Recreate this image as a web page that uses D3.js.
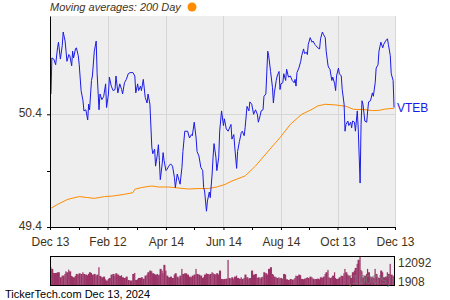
<!DOCTYPE html>
<html>
<head>
<meta charset="utf-8">
<script src="https://cdn.jsdelivr.net/npm/d3@7/dist/d3.min.js"></script>
<style>
  body { margin: 0; background: #fff; }
  svg { display: block; font-family: "Liberation Sans", Arial, sans-serif; }
</style>
</head>
<body>
<div id="chart"></div>
<script>
// daily closes
var priceDates = [
  "2023-12-14","2023-12-15","2023-12-17","2023-12-19","2023-12-21","2023-12-22","2023-12-24","2023-12-26","2023-12-27","2023-12-29",
  "2023-12-30","2023-12-31","2024-01-02","2024-01-03","2024-01-05","2024-01-06","2024-01-07","2024-01-09","2024-01-10","2024-01-12",
  "2024-01-13","2024-01-15","2024-01-17","2024-01-18","2024-01-20","2024-01-22","2024-01-23","2024-01-24","2024-01-26","2024-01-27",
  "2024-01-29","2024-01-31","2024-02-01","2024-02-03","2024-02-04","2024-02-06","2024-02-08","2024-02-10","2024-02-11","2024-02-13",
  "2024-02-14","2024-02-16","2024-02-18","2024-02-20","2024-02-21","2024-02-23","2024-02-25","2024-02-27","2024-02-28","2024-03-01",
  "2024-03-03","2024-03-05","2024-03-07","2024-03-10","2024-03-12","2024-03-13","2024-03-15","2024-03-16","2024-03-18","2024-03-19",
  "2024-03-21","2024-03-23","2024-03-25","2024-03-26","2024-03-28","2024-03-30","2024-03-31","2024-04-02","2024-04-03","2024-04-05",
  "2024-04-06","2024-04-07","2024-04-08","2024-04-10","2024-04-11","2024-04-12","2024-04-14","2024-04-15","2024-04-17","2024-04-19",
  "2024-04-21","2024-04-23","2024-04-24","2024-04-26","2024-04-28","2024-04-29","2024-05-01","2024-05-02","2024-05-04","2024-05-07",
  "2024-05-09","2024-05-11","2024-05-12","2024-05-14","2024-05-16","2024-05-17","2024-05-19","2024-05-21","2024-05-23","2024-05-24",
  "2024-05-25","2024-05-27","2024-05-28","2024-05-30","2024-05-31","2024-06-02","2024-06-03","2024-06-04","2024-06-06","2024-06-07",
  "2024-06-09","2024-06-10","2024-06-12","2024-06-14","2024-06-15","2024-06-17","2024-06-19","2024-06-20","2024-06-22","2024-06-23",
  "2024-06-25","2024-06-26","2024-06-28","2024-06-29","2024-07-01","2024-07-03","2024-07-04","2024-07-06","2024-07-07","2024-07-09",
  "2024-07-11","2024-07-12","2024-07-14","2024-07-16","2024-07-18","2024-07-20","2024-07-21","2024-07-23","2024-07-24","2024-07-26",
  "2024-07-27","2024-07-29","2024-07-31","2024-08-01","2024-08-03","2024-08-05","2024-08-06","2024-08-07","2024-08-09","2024-08-10",
  "2024-08-12","2024-08-13","2024-08-14","2024-08-16","2024-08-17","2024-08-19","2024-08-20","2024-08-22","2024-08-24","2024-08-26",
  "2024-08-28","2024-08-29","2024-08-30","2024-08-31","2024-09-02","2024-09-04","2024-09-05","2024-09-07","2024-09-08","2024-09-10",
  "2024-09-11","2024-09-12","2024-09-14","2024-09-16","2024-09-17","2024-09-19","2024-09-20","2024-09-22","2024-09-24","2024-09-25",
  "2024-09-27","2024-09-28","2024-09-30","2024-10-01","2024-10-03","2024-10-04","2024-10-05","2024-10-07","2024-10-08","2024-10-10",
  "2024-10-11","2024-10-12","2024-10-14","2024-10-15","2024-10-17","2024-10-18","2024-10-20","2024-10-21","2024-10-22","2024-10-24",
  "2024-10-25","2024-10-27","2024-10-28","2024-10-29","2024-10-31","2024-11-01","2024-11-03","2024-11-04","2024-11-06","2024-11-07",
  "2024-11-08","2024-11-09","2024-11-11","2024-11-13","2024-11-14","2024-11-15","2024-11-17","2024-11-19","2024-11-20","2024-11-22",
  "2024-11-23","2024-11-25","2024-11-26","2024-11-28","2024-11-30","2024-12-01","2024-12-03","2024-12-05","2024-12-06","2024-12-08",
  "2024-12-09","2024-12-11","2024-12-12"
];
var priceValues = [
  50.58,50.90,50.89,50.84,50.99,51.04,50.89,51.01,51.13,51.05,
  50.96,50.87,50.93,50.92,50.83,50.96,50.90,50.98,50.99,50.92,
  50.84,50.61,50.52,50.43,50.44,50.35,50.49,50.44,50.70,50.74,
  50.96,51.05,50.76,50.44,50.58,50.53,50.56,50.67,50.46,50.58,
  50.73,50.65,50.61,50.62,50.74,50.59,50.67,50.62,50.58,50.68,
  50.71,50.76,50.77,50.77,50.74,50.59,50.67,50.61,50.65,50.61,
  50.71,50.55,50.50,50.58,50.49,50.11,50.05,50.09,49.94,50.05,
  50.13,49.99,49.82,49.96,50.06,49.99,49.90,49.91,49.94,49.96,
  49.94,49.84,49.75,49.87,49.81,49.78,49.93,50.07,50.25,50.25,
  50.19,50.22,50.21,50.33,50.19,50.07,50.03,49.93,49.90,49.75,
  49.72,49.54,49.63,49.71,49.66,49.87,50.02,50.14,50.02,49.90,
  50.02,50.25,50.43,50.30,50.36,50.27,50.25,50.27,50.31,50.18,
  50.22,50.11,49.92,50.07,50.16,50.24,50.25,50.21,50.28,50.47,
  50.43,50.51,50.49,50.40,50.44,50.40,50.33,50.39,50.43,50.44,
  50.56,50.58,50.96,50.92,50.78,50.64,50.50,50.59,50.70,50.74,
  50.78,50.62,50.67,50.68,50.76,50.70,50.80,50.73,50.74,50.70,
  50.68,50.71,50.65,50.77,50.81,50.87,50.92,50.98,50.94,50.95,
  50.93,51.02,51.08,51.04,51.05,51.02,51.01,50.99,50.98,51.07,
  51.13,51.11,51.08,50.96,50.83,50.81,50.80,50.70,50.73,50.67,
  50.61,50.74,50.81,50.76,50.74,50.62,50.49,50.25,50.31,50.34,
  50.30,50.33,50.28,50.34,50.33,50.25,50.43,50.27,49.79,50.31,
  50.52,50.49,50.34,50.33,50.43,50.51,50.52,50.59,50.56,50.68,
  50.81,50.84,50.96,51.04,50.99,51.02,51.05,51.07,51.02,50.92,
  50.76,50.70,50.46
];
// daily volume in 1000's, same dates as the closes
var volumeValues = [
  7540,6828,5100,5100,5406,5406,3272,3983,3983,4694,
  5800,5406,6540,5800,3840,3556,3272,3840,4694,4410,
  4979,4694,5406,4694,4410,4125,4694,5406,5120,4410,
  4694,3983,4410,7540,3840,3272,3556,2418,1908,2561,
  2987,4410,4694,3983,4979,4410,3840,4125,3272,2987,
  3556,2134,1908,4694,5120,2134,2418,2987,2987,3272,
  2703,3983,4410,5406,6117,5830,4979,4694,4410,4694,
  4125,4410,6828,6117,4979,8536,6117,3983,3272,3556,
  2987,4410,4979,3556,2987,3983,6828,4694,4979,4410,
  3556,3272,3983,4410,6828,4694,4410,3983,2987,3272,
  4410,4979,4694,4410,4694,5406,5120,4694,4410,4979,
  4410,6117,2561,2418,2561,2703,10670,2987,2703,3272,
  2703,3556,3983,2987,2703,3272,2561,2987,4410,3272,
  2703,2987,6117,4410,4694,2987,3272,2703,3272,3556,
  5406,4979,4410,6828,7540,4694,4410,3556,3272,2987,
  3272,2703,2987,2561,4694,4410,2418,2134,2561,2276,
  2418,2987,3983,3840,4410,4125,2561,2418,2703,2987,
  3272,2987,3556,3272,2703,2418,2561,2703,2418,3272,
  2987,3556,4694,5406,6402,3272,2987,3272,3983,5406,
  2987,2561,2703,3272,3983,3840,4979,6828,5406,4410,
  3983,3272,2987,5406,6117,7255,8962,10670,12092,6402,
  5830,3272,3983,4694,6828,5406,3272,3556,2987,6828,
  4694,3272,2987,6117,5406,3272,3556,5406,4694,8962,
  4410,3983,3556
];
// 200 day moving average
var maDates = [
  "2023-12-14","2023-12-21","2024-01-01","2024-01-13","2024-01-22","2024-01-29","2024-02-09","2024-02-18","2024-03-01","2024-03-10",
  "2024-03-12","2024-03-19","2024-03-30","2024-04-06","2024-04-17","2024-04-27","2024-05-08","2024-05-18","2024-05-29","2024-06-07",
  "2024-06-16","2024-06-23","2024-07-07","2024-07-18","2024-07-28","2024-08-13","2024-08-24","2024-09-05","2024-09-16","2024-09-22",
  "2024-09-30","2024-10-11","2024-10-22","2024-10-30","2024-11-10","2024-11-19","2024-11-26","2024-12-03","2024-12-12"
];
var maValues = [
  49.566,49.601,49.646,49.670,49.661,49.654,49.670,49.675,49.690,49.705,
  49.735,49.750,49.764,49.755,49.755,49.746,49.737,49.741,49.741,49.755,
  49.779,49.808,49.853,49.941,50.039,50.193,50.311,50.400,50.444,50.474,
  50.489,50.483,50.471,50.444,50.442,50.433,50.435,50.447,50.453
];
var xTickDates = ["2023-12-13","2024-02-12","2024-04-14","2024-06-14","2024-08-14","2024-10-13","2024-12-13"];
var xTickLabels = ["Dec 13","Feb 12","Apr 14","Jun 14","Aug 14","Oct 13","Dec 13"];
var xMinorDates = ["2024-01-13","2024-03-14","2024-05-14","2024-07-14","2024-09-13","2024-11-13"];
var yLabels = [49.4, 50.4];
var yMinor = [49.9];
var volumeLabels = [12092, 1908];

var width = 450, height = 300;
var plotLeft = 50, plotRight = 395, plotTop = 16, plotBottom = 227;
var volTop = 256, volBottom = 285;
var textColor = "#3f3317";

var parse = d3.timeParse("%Y-%m-%d");
var prices = priceDates.map(function (d, i) {
  return { date: parse(d), value: priceValues[i], volume: volumeValues[i] };
});
var ma = maDates.map(function (d, i) {
  return { date: parse(d), value: maValues[i] };
});

var svg = d3.select("#chart").append("svg")
  .attr("width", width)
  .attr("height", height);

var x = d3.scaleTime()
  .domain([parse("2023-12-13"), parse("2024-12-13")])
  .range([plotLeft, plotRight]);
var y = d3.scaleLinear()
  .domain([49.4, 49.4 + (plotBottom - plotTop) / 112.7])
  .range([plotBottom, plotTop]);
var yVol = d3.scaleLinear()
  .domain([0, 12092])
  .range([volBottom, volTop + 0.5]);

// plot background
svg.append("rect")
  .attr("x", plotLeft).attr("y", plotTop)
  .attr("width", plotRight - plotLeft).attr("height", plotBottom - plotTop)
  .attr("fill", "#eeeeee");

// gridlines
svg.append("g")
  .selectAll("line")
  .data(xTickDates.slice(1))
  .enter().append("line")
  .attr("x1", function (d) { return Math.round(x(parse(d))) + 0.5; })
  .attr("x2", function (d) { return Math.round(x(parse(d))) + 0.5; })
  .attr("y1", plotTop).attr("y2", plotBottom)
  .attr("stroke", "#d6d6d6");
svg.append("line")
  .attr("x1", plotLeft).attr("x2", plotRight)
  .attr("y1", Math.round(y(50.4)) + 0.5).attr("y2", Math.round(y(50.4)) + 0.5)
  .attr("stroke", "#d6d6d6");

// moving average
svg.append("path")
  .datum(ma)
  .attr("fill", "none")
  .attr("stroke", "#ff8c00")
  .attr("stroke-width", 1)
  .attr("d", d3.line()
    .x(function (d) { return x(d.date); })
    .y(function (d) { return y(d.value); }));

// price line
svg.append("path")
  .datum(prices)
  .attr("fill", "none")
  .attr("stroke", "#1a1ae6")
  .attr("stroke-width", 1)
  .attr("stroke-linejoin", "round")
  .attr("d", d3.line()
    .x(function (d) { return x(d.date); })
    .y(function (d) { return y(d.value); }));

// axes
var xAxis = d3.axisBottom(x)
  .tickValues(xTickDates.map(parse))
  .tickFormat(function (d, i) { return xTickLabels[i]; })
  .tickSize(3)
  .tickSizeOuter(0);
var gx = svg.append("g")
  .attr("transform", "translate(0," + plotBottom + ")")
  .call(xAxis);
gx.selectAll("text")
  .attr("font-size", 12)
  .attr("dy", "1.05em")
  .attr("fill", textColor)
  .attr("font-family", "Liberation Sans, Arial, sans-serif");
gx.selectAll("line,path").attr("stroke", "#000");

svg.append("g")
  .selectAll("line")
  .data(xMinorDates)
  .enter().append("line")
  .attr("x1", function (d) { return Math.round(x(parse(d))) + 0.5; })
  .attr("x2", function (d) { return Math.round(x(parse(d))) + 0.5; })
  .attr("y1", plotBottom).attr("y2", plotBottom + 3)
  .attr("stroke", "#000");

var yAxis = d3.axisLeft(y)
  .tickValues(yLabels)
  .tickFormat(d3.format(".1f"))
  .tickSize(3)
  .tickSizeOuter(0);
var gy = svg.append("g")
  .attr("transform", "translate(" + plotLeft + ",0)")
  .call(yAxis);
gy.selectAll("text")
  .attr("font-size", 12)
  .attr("x", -8)
  .attr("dy", "0.22em")
  .attr("fill", textColor)
  .attr("font-family", "Liberation Sans, Arial, sans-serif");
gy.selectAll("line,path").attr("stroke", "#000");

svg.append("g")
  .selectAll("line")
  .data(yMinor)
  .enter().append("line")
  .attr("x1", plotLeft - 3).attr("x2", plotLeft)
  .attr("y1", function (d) { return Math.round(y(d)) + 0.5; })
  .attr("y2", function (d) { return Math.round(y(d)) + 0.5; })
  .attr("stroke", "#000");

// series label
svg.append("text")
  .attr("x", plotRight + 2)
  .attr("y", y(priceValues[priceValues.length - 1]) + 4)
  .attr("font-size", 12)
  .attr("fill", "#1a1ae6")
  .text("VTEB");

// title
svg.append("text")
  .attr("x", plotLeft)
  .attr("y", 11)
  .attr("font-size", 11)
  .attr("font-style", "italic")
  .attr("fill", textColor)
  .text("Moving averages: 200 Day");
svg.append("circle")
  .attr("cx", 192).attr("cy", 7).attr("r", 4.5)
  .attr("fill", "#ff8c00");

// volume panel
svg.append("rect")
  .attr("x", plotLeft).attr("y", volTop)
  .attr("width", plotRight - plotLeft).attr("height", volBottom - volTop)
  .attr("fill", "#eeeeee");

svg.append("g")
  .selectAll("rect")
  .data(prices)
  .enter().append("rect")
  .attr("x", function (d) { return x(d.date) - 0.7; })
  .attr("width", function (d, i) {
    var next = i < prices.length - 1 ? x(prices[i + 1].date) : plotRight;
    return Math.max(1.2, next - x(d.date) + 0.2);
  })
  .attr("y", function (d) { return yVol(d.volume); })
  .attr("height", function (d) { return volBottom - yVol(d.volume); })
  .attr("fill", "#993366");

svg.append("rect")
  .attr("x", plotLeft + 0.5).attr("y", volTop + 0.5)
  .attr("width", plotRight - plotLeft - 1).attr("height", volBottom - volTop)
  .attr("fill", "none")
  .attr("stroke", "#000");

svg.append("text")
  .attr("x", plotRight - 4)
  .attr("y", volBottom - 1)
  .attr("text-anchor", "end")
  .attr("font-size", 12)
  .attr("fill", "#777")
  .attr("fill-opacity", 0.85)
  .text("(1000's)");

svg.append("g")
  .selectAll("text")
  .data(volumeLabels)
  .enter().append("text")
  .attr("x", plotRight + 3)
  .attr("y", function (d, i) { return i === 0 ? 267 : 286; })
  .attr("font-size", 12)
  .attr("fill", textColor)
  .text(function (d) { return d; });

// footer
svg.append("text")
  .attr("x", 5)
  .attr("y", 298)
  .attr("font-size", 11)
  .attr("fill", "#000")
  .text("TickerTech.com  Dec 13, 2024");
</script>
</body>
</html>
